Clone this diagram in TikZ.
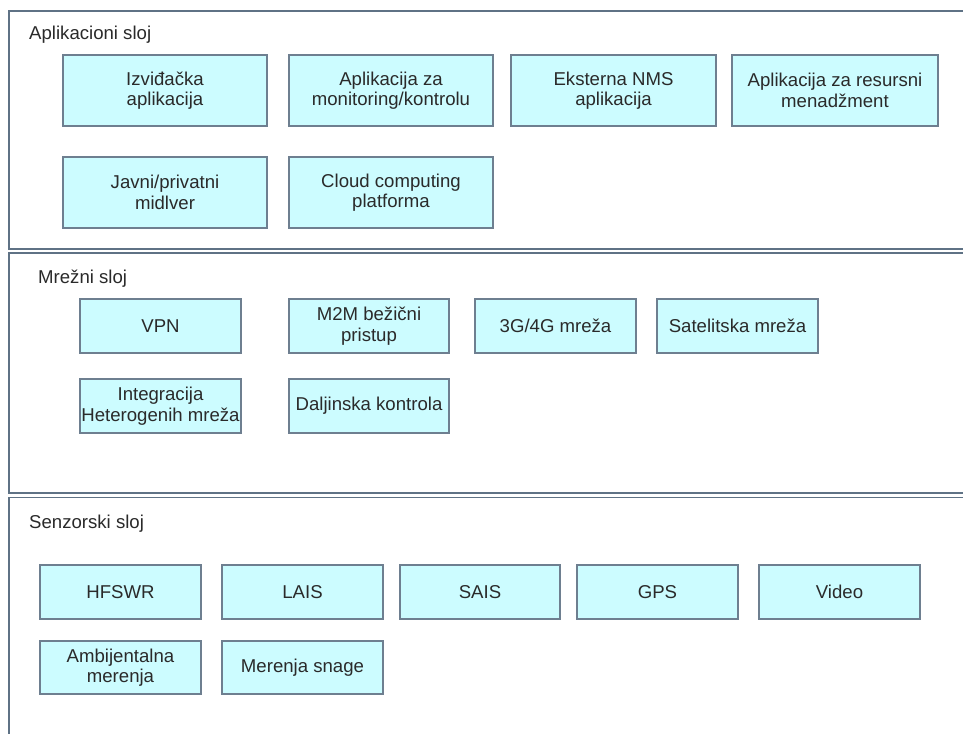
\documentclass[tikz,border=0pt]{standalone}
\usepackage{fontspec}
\setmainfont{Liberation Sans}
\definecolor{boxfill}{HTML}{CCFCFF}
\definecolor{boxline}{HTML}{6E7F90}
\definecolor{layerline}{HTML}{5F7285}
\definecolor{txt}{HTML}{2A2A2A}
\tikzset{
  layer/.style={draw=layerline, line width=1.5pt, fill=white},
  comp/.style={draw=boxline, line width=1.1pt, fill=boxfill, text=txt, align=center,
    font=\fontsize{18.6}{20.5}\selectfont, inner sep=0pt},
  ltitle/.style={anchor=west, text=txt, font=\fontsize{18.6}{20.5}\selectfont, inner sep=0pt}
}
\begin{document}
\begin{tikzpicture}[x=1pt,y=-1pt]
\useasboundingbox (0,0) rectangle (963,733);
\fill[white] (0,0) rectangle (963,733);
\begin{scope}
\clip (0,0) rectangle (963,733);
\draw[layer] (9,11) rectangle (975,249);
\draw[layer] (9,253) rectangle (975,493);
\draw[layer] (9,497.5) rectangle (975,745);
\end{scope}

% layer titles
\node[ltitle] (t1) at (29,35) {Aplikacioni sloj};
\node[ltitle] (t2) at (38,279) {Mrežni sloj};
\node[ltitle] (t3) at (29,524) {Senzorski sloj};

\newcommand{\compbox}[6]{\node[comp, minimum width=#4-#2, minimum height=#5-#3] (#1) at ({(#2+#4)/2},{(#3+#5)/2}) {#6};}
% application layer
\compbox{a1}{63}{55}{267}{126}{Izviđačka\\aplikacija}
\compbox{a2}{289}{55}{493}{126}{Aplikacija za\\monitoring/kontrolu}
\compbox{a3}{511}{55}{716}{126}{Eksterna NMS\\aplikacija}
\compbox{a4}{732}{55}{938}{126}{Aplikacija za resursni\\menadžment}
\compbox{a5}{63}{157}{267}{228}{Javni/privatni\\midlver}
\compbox{a6}{289}{157}{493}{228}{Cloud computing\\platforma}

% network layer
\compbox{n1}{80}{299}{241}{353}{VPN}
\compbox{n2}{289}{299}{449}{353}{M2M bežični\\pristup}
\compbox{n3}{475}{299}{636}{353}{3G/4G mreža}
\compbox{n4}{657}{299}{818}{353}{Satelitska mreža}
\compbox{n5}{80}{379}{241}{433}{Integracija\\Heterogenih mreža}
\compbox{n6}{289}{379}{449}{433}{Daljinska kontrola}

% sensor layer
\compbox{s1}{40}{565}{201}{619}{HFSWR}
\compbox{s2}{222}{565}{383}{619}{LAIS}
\compbox{s3}{400}{565}{560}{619}{SAIS}
\compbox{s4}{577}{565}{738}{619}{GPS}
\compbox{s5}{759}{565}{920}{619}{Video}
\compbox{s6}{40}{641}{201}{694}{Ambijentalna\\merenja}
\compbox{s7}{222}{641}{383}{694}{Merenja snage}
\end{tikzpicture}
\end{document}
